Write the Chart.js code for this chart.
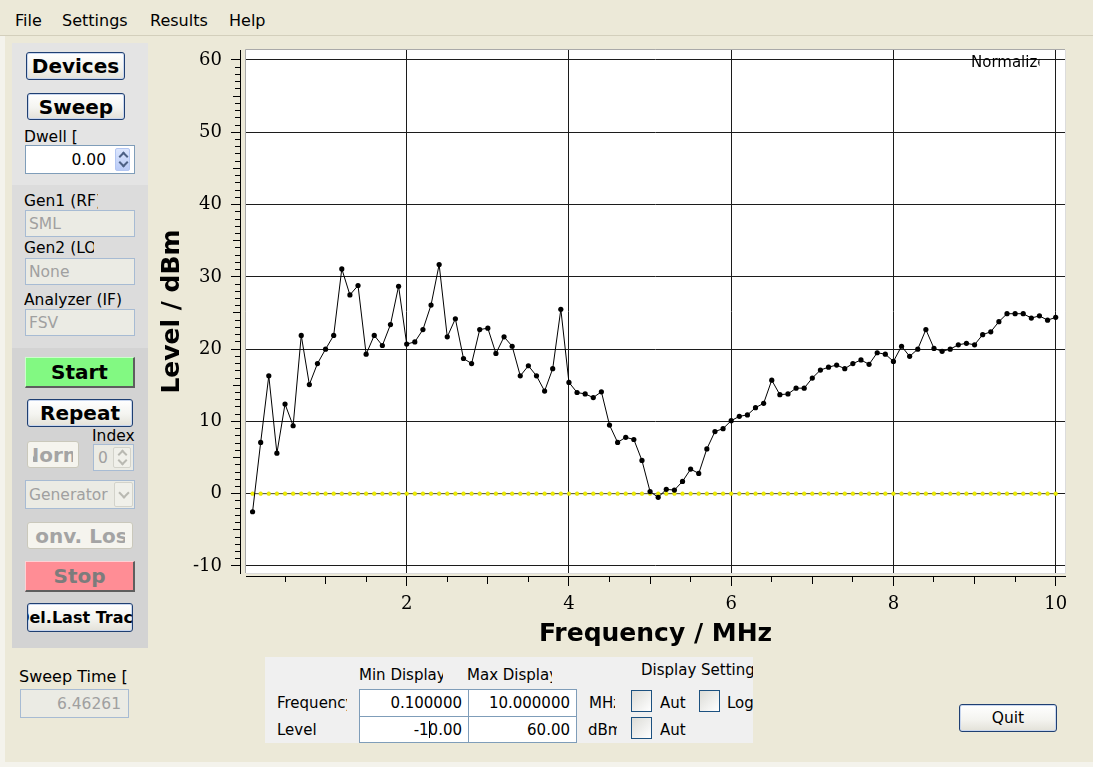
<!DOCTYPE html>
<html>
<head>
<meta charset="utf-8">
<title>Sweep</title>
<script src="https://cdn.jsdelivr.net/npm/chart.js@4.4.1/dist/chart.umd.min.js"></script>
<style>
  html, body { margin: 0; padding: 0; }
  body {
    width: 1093px; height: 767px; position: relative; overflow: hidden;
    background: #ECE9D8; font-family: "DejaVu Sans", sans-serif; font-size: 15.5px; color: #000;
  }
  .abs { position: absolute; box-sizing: border-box; }
  .lbl { position: absolute; white-space: nowrap; line-height: 1.25; overflow: hidden; }
  .menu { position: absolute; left: 0; top: 0; width: 1093px; height: 36px; border-bottom: 1px solid #D3CFBC; box-sizing: border-box; }
  .menu span { position: absolute; top: 13px; font-size: 16px; line-height: 1; }

  /* XP style push button */
  .btn {
    position: absolute; box-sizing: border-box; border: 1px solid #1F3F72; border-radius: 3px;
    background: linear-gradient(#FFFFFF, #F4F4F0 55%, #E3E1D8);
    font-weight: bold; font-size: 20px; display: flex; align-items: center; justify-content: center;
    overflow: hidden; white-space: nowrap; box-shadow: inset 0 0 0 1px #C8D6EE;
  }
  .btn .in { flex: 1 1 auto; min-width: 0; display: flex; justify-content: center; overflow: hidden; white-space: nowrap; }
  .btn.dis { border-color: #CAC8BB; color: #A4A4A4; background: #F5F4EE; box-shadow: none; }
  .btn.flat { border-radius: 0; border-width: 1px 2px 2px 1px; box-shadow: none; }
  .btn.plain { font-weight: normal; font-size: 15.5px; }

  /* text boxes */
  .tb {
    position: absolute; box-sizing: border-box; border: 1px solid #7F9DB9; background: #fff;
    display: flex; align-items: center; white-space: nowrap; overflow: hidden;
  }
  .tb.r { justify-content: flex-end; }
  .tb.dis { background: #EBEBE4; color: #A0A0A0; border-color: #A7BBD3; }

  .spin { position: absolute; box-sizing: border-box; border: 1px solid #B3C6F2; border-radius: 2px;
          background: linear-gradient(#DCE6FD, #B9CBF7); }
  .spin.dis { border-color: #D3D3CB; background: #F0F0EA; }
  .chev { position: absolute; width: 5px; height: 5px; border: solid #4D6185; transform: rotate(45deg); }
  .chev.up { border-width: 2px 0 0 2px; }
  .chev.dn { border-width: 0 2px 2px 0; }
  .dis .chev { border-color: #B9B9B2; }

  .chk { position: absolute; box-sizing: border-box; border: 1px solid #1C5180;
         background: linear-gradient(135deg, #DCDCD7, #FFFFFF); }
  .caret { display: inline-block; width: 0; height: 17px; border-left: 1px solid #000; margin: 0 -1px 0 0; vertical-align: -3px; }
</style>
</head>
<body>

<!-- window border strips -->
<div class="abs" style="left:0;top:36px;width:5px;height:731px;background:#F4F3EC;"></div>
<div class="abs" style="left:0;top:762px;width:1093px;height:5px;background:#F4F3EC;"></div>

<div class="menu">
  <span style="left:15px">File</span>
  <span style="left:62px">Settings</span>
  <span style="left:150px">Results</span>
  <span style="left:229px">Help</span>
</div>

<!-- left control column -->
<div class="abs" style="left:12px;top:43px;width:136px;height:142px;background:#E4E4E4;"></div>
<div class="abs" style="left:12px;top:185px;width:136px;height:163px;background:#DCDCDC;"></div>
<div class="abs" style="left:12px;top:348px;width:136px;height:300px;background:#D3D3D3;"></div>

<div class="btn" style="left:26px;top:52px;width:99px;height:28px;">Devices</div>
<div class="btn" style="left:27px;top:93px;width:98px;height:27px;">Sweep</div>
<div class="lbl" style="left:24px;top:127.5px;">Dwell [</div>
<div class="tb r" style="left:25px;top:145px;width:110px;height:29px;padding-right:28px;">0.00</div>
<div class="spin" style="left:115px;top:148px;width:15px;height:23px;">
  <div class="chev up" style="left:4px;top:4px;"></div>
  <div class="chev dn" style="left:4px;top:10px;"></div>
</div>

<div class="lbl" style="left:24px;top:191.5px;width:74px;">Gen1 (RF)</div>
<div class="tb dis" style="left:25px;top:210px;width:110px;height:27px;padding-left:3px;">SML</div>
<div class="lbl" style="left:24px;top:239px;width:70px;">Gen2 (LO)</div>
<div class="tb dis" style="left:25px;top:258px;width:110px;height:27px;padding-left:3px;">None</div>
<div class="lbl" style="left:24px;top:291px;width:98px;">Analyzer (IF)</div>
<div class="tb dis" style="left:25px;top:309px;width:110px;height:27px;padding-left:3px;">FSV</div>

<div class="btn flat" style="left:25px;top:357px;width:110px;height:31px;background:#82F982;border-color:#CCFFCC #5E5E5E #5E5E5E #CCFFCC;">Start</div>
<div class="btn" style="left:27px;top:399px;width:106px;height:28px;">Repeat</div>
<div class="lbl" style="left:92px;top:426.5px;">Index</div>
<div class="btn dis" style="left:27px;top:441px;width:52px;height:27px;"><span class="in" style="margin:0 5px;">Norm</span></div>
<div class="tb dis" style="left:93px;top:444px;width:41px;height:27px;padding-left:4px;">0</div>
<div class="spin dis" style="left:113px;top:447px;width:18px;height:21px;">
  <div class="chev up" style="left:5px;top:3px;"></div>
  <div class="chev dn" style="left:5px;top:9px;"></div>
</div>
<div class="tb dis" style="left:25px;top:480px;width:110px;height:29px;padding-left:3px;">Generator</div>
<div class="spin dis" style="left:114px;top:482px;width:19px;height:25px;">
  <div class="chev dn" style="left:5px;top:6px;width:6px;height:6px;"></div>
</div>
<div class="btn dis" style="left:27px;top:522px;width:106px;height:27px;"><span class="in" style="margin:0 7px;">Conv. Loss</span></div>
<div class="btn flat" style="left:25px;top:561px;width:110px;height:31px;background:#FF8D95;color:#7C7C7C;border-color:#FFD0D4 #5E5E5E #5E5E5E #FFD0D4;">Stop</div>
<div class="btn" style="left:27px;top:603px;width:106px;height:29px;font-size:16px;"><span class="in">Del.Last Trace</span></div>

<div class="lbl" style="left:19px;top:667px;font-size:16px;">Sweep Time [</div>
<div class="tb dis r" style="left:20px;top:689px;width:109px;height:29px;padding-right:7px;">6.46261</div>

<!-- the plot -->
<canvas id="plot" width="940" height="625" style="position:absolute;left:140px;top:40px;"></canvas>

<!-- display range panel -->
<div class="abs" style="left:265px;top:657px;width:488px;height:86px;background:#F0F0F0;overflow:hidden;font-size:15px;">
  <div class="lbl" style="left:94px;top:9px;width:84px;">Min Display</div>
  <div class="lbl" style="left:202px;top:9px;width:85px;">Max Display</div>
  <div class="lbl" style="left:376px;top:4px;">Display Settings</div>
  <div class="lbl" style="left:12px;top:37px;width:69.5px;">Frequency</div>
  <div class="lbl" style="left:12px;top:64px;">Level</div>
  <div class="tb r" style="left:94px;top:32px;width:110px;height:28px;padding-right:6px;">0.100000</div>
  <div class="tb r" style="left:203px;top:32px;width:109px;height:28px;padding-right:6px;">10.000000</div>
  <div class="tb r" style="left:94px;top:59px;width:110px;height:27px;padding-right:6px;">-1<span class="caret"></span>0.00</div>
  <div class="tb r" style="left:203px;top:59px;width:109px;height:27px;padding-right:6px;">60.00</div>
  <div class="lbl" style="left:324px;top:37px;width:26px;">MHz</div>
  <div class="lbl" style="left:323px;top:64px;width:29px;">dBm</div>
  <div class="chk" style="left:366px;top:33px;width:21px;height:22px;"></div>
  <div class="lbl" style="left:395px;top:37px;">Aut</div>
  <div class="chk" style="left:434px;top:33px;width:21px;height:22px;"></div>
  <div class="lbl" style="left:462px;top:37px;">Log</div>
  <div class="chk" style="left:366px;top:60px;width:21px;height:22px;"></div>
  <div class="lbl" style="left:395px;top:64px;">Aut</div>
</div>

<div class="btn plain" style="left:959px;top:704px;width:98px;height:28px;">Quit</div>

<script>
// Level trace of the last sweep, one point every 100 kHz
const FREQ_MHZ = [
  0.1, 0.2, 0.3, 0.4, 0.5, 0.6, 0.7, 0.8, 0.9, 1.0,
  1.1, 1.2, 1.3, 1.4, 1.5, 1.6, 1.7, 1.8, 1.9, 2.0,
  2.1, 2.2, 2.3, 2.4, 2.5, 2.6, 2.7, 2.8, 2.9, 3.0,
  3.1, 3.2, 3.3, 3.4, 3.5, 3.6, 3.7, 3.8, 3.9, 4.0,
  4.1, 4.2, 4.3, 4.4, 4.5, 4.6, 4.7, 4.8, 4.9, 5.0,
  5.1, 5.2, 5.3, 5.4, 5.5, 5.6, 5.7, 5.8, 5.9, 6.0,
  6.1, 6.2, 6.3, 6.4, 6.5, 6.6, 6.7, 6.8, 6.9, 7.0,
  7.1, 7.2, 7.3, 7.4, 7.5, 7.6, 7.7, 7.8, 7.9, 8.0,
  8.1, 8.2, 8.3, 8.4, 8.5, 8.6, 8.7, 8.8, 8.9, 9.0,
  9.1, 9.2, 9.3, 9.4, 9.5, 9.6, 9.7, 9.8, 9.9, 10.0
];
const LEVEL_DBM = [
  -2.5, 7.1, 16.3, 5.6, 12.4, 9.4, 21.9, 15.1, 18.0, 20.0,
  21.9, 31.1, 27.5, 28.8, 19.3, 21.9, 20.5, 23.4, 28.7, 20.7,
  21.0, 22.7, 26.1, 31.7, 21.7, 24.2, 18.7, 18.0, 22.7, 22.9,
  19.4, 21.7, 20.4, 16.3, 17.7, 16.3, 14.2, 17.3, 25.5, 15.4,
  14.0, 13.8, 13.3, 14.1, 9.5, 7.1, 7.8, 7.5, 4.6, 0.3,
  -0.5, 0.6, 0.5, 1.7, 3.4, 2.8, 6.2, 8.6, 9.0, 10.1,
  10.7, 10.9, 11.9, 12.5, 15.7, 13.7, 13.8, 14.6, 14.6, 16.0,
  17.1, 17.5, 17.8, 17.3, 18.0, 18.5, 17.9, 19.5, 19.3, 18.3,
  20.4, 19.0, 20.0, 22.7, 20.1, 19.7, 20.0, 20.6, 20.8, 20.6,
  22.0, 22.4, 23.8, 24.9, 24.9, 24.9, 24.3, 24.6, 24.0, 24.4
];
// normalization reference trace (flat 0 dBm)
const NORM_DBM = [
  0, 0, 0, 0, 0, 0, 0, 0, 0, 0,
  0, 0, 0, 0, 0, 0, 0, 0, 0, 0,
  0, 0, 0, 0, 0, 0, 0, 0, 0, 0,
  0, 0, 0, 0, 0, 0, 0, 0, 0, 0,
  0, 0, 0, 0, 0, 0, 0, 0, 0, 0,
  0, 0, 0, 0, 0, 0, 0, 0, 0, 0,
  0, 0, 0, 0, 0, 0, 0, 0, 0, 0,
  0, 0, 0, 0, 0, 0, 0, 0, 0, 0,
  0, 0, 0, 0, 0, 0, 0, 0, 0, 0,
  0, 0, 0, 0, 0, 0, 0, 0, 0, 0
];

// labelled ticks
const X_TICK_LABELS = [2, 4, 6, 8, 10];
const Y_TICK_LABELS = [-10, 0, 10, 20, 30, 40, 50, 60];
const X_MID_TICKS = [1, 3, 5, 7, 9];
const Y_MID_TICKS = [-5, 5, 15, 25, 35, 45, 55];

// plot canvas is a little wider than the 0.1..10 MHz / -10..60 dBm range
const X_VIEW = { min: 0.019, max: 10.115 };
const Y_VIEW = { min: -10.97, max: 61.38 };
// the scale rulers sit just outside the canvas (in data units)
const Y_RULER_AT = -0.05;
const Y_LABELS_AT = -0.277;
const X_RULER_AT = -11.52;

function steps(from, to, step) {
    const out = [];
    for (let v = from; v <= to + 1e-9; v += step) out.push(Math.round(v * 100) / 100);
    return out;
}

function fixedTicks(values) {
    return function(scale) {
        scale.ticks = values.map(v => ({ value: v }));
    };
}

function noPadding(scale) {
    scale.paddingLeft = 0;
    scale.paddingRight = 0;
    scale.paddingTop = 0;
    scale.paddingBottom = 0;
}

const tickFont = { family: 'DejaVu Serif', size: 18 };
const titleFont = { family: 'DejaVu Sans', size: 25, weight: 'bold' };
const GRID = '#1c1c1c';

// detached ruler axes: tick marks, optional labels and axis line
function ruler(axis, at, values, opts) {
    const view = axis === 'x' ? X_VIEW : Y_VIEW;
    return {
        axis: axis,
        type: 'linear',
        position: axis === 'x' ? { y: at } : { x: at },
        min: view.min,
        max: view.max,
        afterBuildTicks: fixedTicks(values),
        afterFit: noPadding,
        ticks: {
            display: !!opts.labels,
            font: tickFont,
            color: '#000',
            padding: 8,
            autoSkip: false,
            maxRotation: 0
        },
        grid: {
            drawOnChartArea: false,
            drawTicks: opts.tick > 0,
            tickLength: opts.tick || 0,
            tickColor: '#000',
            tickWidth: 1
        },
        border: { display: !!opts.line, color: '#000', width: 1 }
    };
}

// white plot canvas with a sunken frame
const plotCanvas = {
    id: 'plotCanvas',
    beforeDraw(chart) {
        const { ctx, chartArea: a } = chart;
        ctx.save();
        ctx.fillStyle = '#FFFFFF';
        ctx.fillRect(a.left, a.top, a.right - a.left, a.bottom - a.top);
        ctx.lineWidth = 1;
        ctx.strokeStyle = '#A9A9A9';
        ctx.beginPath();
        ctx.moveTo(a.left - 0.5, a.bottom);
        ctx.lineTo(a.left - 0.5, a.top - 0.5);
        ctx.lineTo(a.right, a.top - 0.5);
        ctx.stroke();
        ctx.strokeStyle = '#DCDCDC';
        ctx.beginPath();
        ctx.moveTo(a.left, a.bottom + 0.5);
        ctx.lineTo(a.right + 0.5, a.bottom + 0.5);
        ctx.lineTo(a.right + 0.5, a.top);
        ctx.stroke();
        ctx.restore();
    }
};

// "Normalized" marker text in the top right corner (clipped like the original)
const normLabel = {
    id: 'normLabel',
    beforeDatasetsDraw(chart) {
        const { ctx, chartArea: a } = chart;
        const x = a.right - 94;
        ctx.save();
        ctx.beginPath();
        ctx.rect(x - 2, a.top, 70.5, 30);
        ctx.clip();
        ctx.font = '15px "DejaVu Sans"';
        ctx.fillStyle = '#000';
        ctx.textBaseline = 'alphabetic';
        ctx.fillText('Normalized', x, a.top + 16.5);
        ctx.restore();
    }
};

const ctx = document.getElementById('plot');

new Chart(ctx, {
    type: 'line',
    data: {
        datasets: [{
            label: 'Level',
            data: FREQ_MHZ.map((f, i) => ({ x: f, y: LEVEL_DBM[i] })),
            borderColor: '#000000',
            borderWidth: 1,
            pointRadius: 2.6,
            pointBackgroundColor: '#000000',
            pointBorderColor: '#000000',
            pointBorderWidth: 0,
            tension: 0,
            order: 0
        }, {
            label: 'Normalization',
            data: FREQ_MHZ.map((f, i) => ({ x: f, y: NORM_DBM[i] })),
            borderColor: '#6F6F5A',
            borderWidth: 1,
            pointRadius: 1.9,
            pointBackgroundColor: '#F2F000',
            pointBorderColor: '#D4D200',
            pointBorderWidth: 0.5,
            tension: 0,
            order: 1
        }]
    },
    options: {
        responsive: false,
        animation: false,
        devicePixelRatio: 1,
        layout: { padding: { left: 0, top: 10, right: 15, bottom: 0 } },
        plugins: {
            legend: { display: false },
            tooltip: { enabled: false }
        },
        scales: {
            x: {
                type: 'linear',
                position: 'bottom',
                min: X_VIEW.min,
                max: X_VIEW.max,
                afterBuildTicks: fixedTicks(X_TICK_LABELS),
                afterFit: function(scale) {
                    scale.height = 92;
                    noPadding(scale);
                },
                ticks: { display: false },
                grid: { color: GRID, lineWidth: 1, drawTicks: false },
                border: { display: false },
                title: {
                    display: true,
                    text: 'Frequency / MHz',
                    font: titleFont,
                    color: '#000',
                    padding: { top: 0, bottom: 16 }
                }
            },
            y: {
                type: 'linear',
                position: 'left',
                min: Y_VIEW.min,
                max: Y_VIEW.max,
                afterBuildTicks: fixedTicks(Y_TICK_LABELS),
                afterFit: function(scale) {
                    scale.width = 106;
                    noPadding(scale);
                },
                ticks: { display: false },
                grid: { color: GRID, lineWidth: 1, drawTicks: false },
                border: { display: false },
                title: {
                    display: true,
                    text: 'Level / dBm',
                    font: titleFont,
                    color: '#000',
                    padding: { top: 17, bottom: 0 }
                }
            },
            xRuler: ruler('x', X_RULER_AT, X_TICK_LABELS, { tick: 9, labels: true, line: true }),
            xRulerMid: ruler('x', X_RULER_AT, X_MID_TICKS, { tick: 7 }),
            xRulerMinor: ruler('x', X_RULER_AT, steps(0.5, 9.5, 1), { tick: 5 }),
            yRuler: ruler('y', Y_RULER_AT, Y_TICK_LABELS, { tick: 9, line: true }),
            yRulerMid: ruler('y', Y_RULER_AT, Y_MID_TICKS, { tick: 7 }),
            yRulerMinor: ruler('y', Y_RULER_AT, steps(-9, 59, 1), { tick: 5 }),
            yLabels: ruler('y', Y_LABELS_AT, Y_TICK_LABELS, { labels: true })
        }
    },
    plugins: [plotCanvas, normLabel]
});
</script>
</body>
</html>
